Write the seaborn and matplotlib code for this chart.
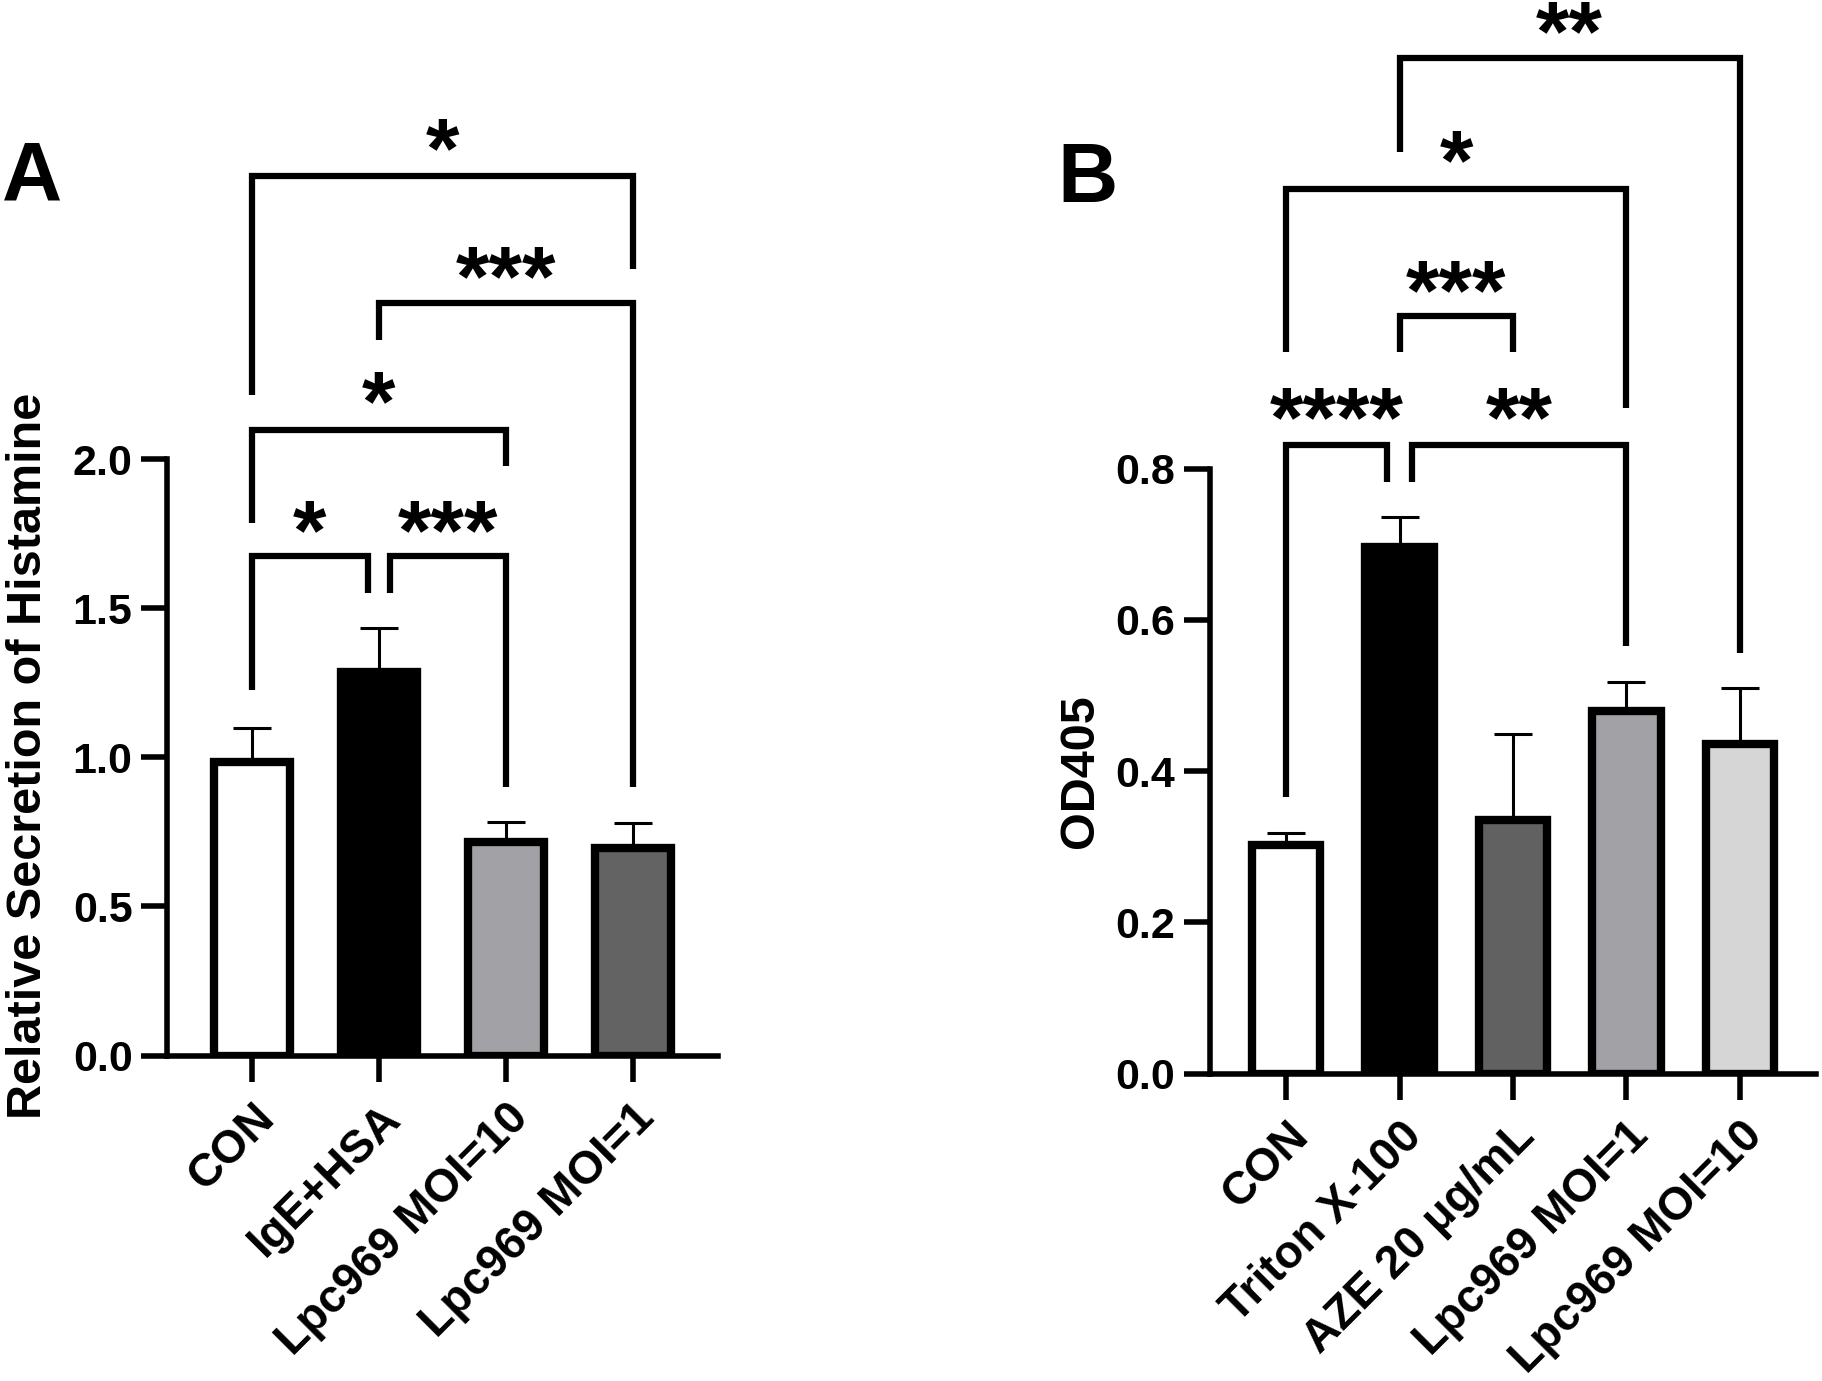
import matplotlib
matplotlib.use("Agg")
import matplotlib.pyplot as plt
import seaborn as sns

# ---- panel A data ----
a_groups = ["CON", "IgE+HSA", "Lpc969 MOI=10", "Lpc969 MOI=1"]
a_means = [0.985, 1.285, 0.715, 0.695]
a_err = [0.115, 0.150, 0.069, 0.085]
a_colors = ["#ffffff", "#000000", "#a2a2a6", "#636363"]

# ---- panel B data ----
b_groups = ["CON", "Triton X-100", "AZE 20 μg/mL", "Lpc969 MOI=1", "Lpc969 MOI=10"]
b_means = [0.302, 0.697, 0.335, 0.480, 0.436]
b_err = [0.016, 0.039, 0.114, 0.038, 0.074]
b_colors = ["#ffffff", "#000000", "#616161", "#a2a2a6", "#d6d6d6"]

# significance brackets: (left idx, right idx, left offset, right offset,
#                         bar height, left leg end, right leg end, label, label y)
a_brackets = [
    (0, 1, 0.0, -0.09, 1.676, 1.225, 1.550, "*", 1.805),
    (1, 2, 0.09, 0.0, 1.676, 1.550, 0.900, "***", 1.805),
    (0, 2, 0.0, 0.0, 2.097, 1.786, 1.977, "*", 2.237),
    (1, 3, 0.0, 0.0, 2.522, 2.400, 0.900, "***", 2.658),
    (0, 3, 0.0, 0.0, 2.950, 2.214, 2.638, "*", 3.085),
]
b_brackets = [
    (0, 1, 0.0, -0.11, 0.831, 0.366, 0.783, "****", 0.886),
    (1, 3, 0.11, 0.0, 0.831, 0.783, 0.566, "**", 0.886),
    (1, 2, 0.0, 0.0, 1.002, 0.954, 0.954, "***", 1.054),
    (0, 3, 0.0, 0.0, 1.170, 0.954, 0.880, "*", 1.226),
    (1, 4, 0.0, 0.0, 1.343, 1.219, 0.556, "**", 1.396),
]

sns.set_style("ticks")
plt.rcParams["font.family"] = ["Liberation Sans", "DejaVu Sans"]
plt.rcParams["font.weight"] = "bold"
for key in ("text.color", "axes.labelcolor", "xtick.color", "ytick.color",
            "axes.edgecolor"):
    plt.rcParams[key] = "black"

fig = plt.figure(figsize=(18.22, 13.81), dpi=100)
ax_a = fig.add_axes([0.0918, 0.2356, 0.302, 0.7644])
ax_b = fig.add_axes([0.6641, 0.2226, 0.3326, 0.7774])

STAR_FS = 62


def draw_panel(ax, groups, means, err, colors, brackets, ymax, ytop, yticks):
    x = list(range(len(groups)))
    ax.errorbar(x, means, yerr=[[0] * len(err), err], fmt="none", ecolor="black",
                elinewidth=2.2, capsize=13.5, capthick=2.2, zorder=1)
    sns.barplot(x=groups, y=means, hue=groups, palette=colors, width=0.6,
                edgecolor="black", linewidth=6, saturation=1, legend=False,
                ax=ax, zorder=2)
    for p in ax.patches:
        p.set_zorder(2)
    ax.set_xlim(-0.67, len(groups) - 0.33)
    ax.set_ylim(0, ymax)
    ax.set_yticks(yticks)
    ax.set_yticklabels([f"{t:.1f}" for t in yticks], fontsize=31, fontweight="bold")
    ax.set_xticks(x)
    ax.set_xticklabels(groups, rotation=45, ha="right", rotation_mode="anchor",
                       fontsize=33, fontweight="bold")
    ax.set_xlabel("")
    ax.set_ylabel("")
    sns.despine(ax=ax)
    ax.spines["left"].set_bounds(0, ytop)
    for s in ("left", "bottom"):
        ax.spines[s].set_linewidth(4)
    ax.tick_params(axis="both", width=4, length=19, pad=6, color="black")
    ax.tick_params(axis="x", pad=10)
    ax.patch.set_alpha(0)

    for i, j, oi, oj, h, yi, yj, lab, ty in brackets:
        xi, xj = i + oi, j + oj
        ax.plot([xi, xi, xj, xj], [yi, h, h, yj], color="black", lw=4.5,
                solid_joinstyle="miter", solid_capstyle="butt", clip_on=False,
                zorder=3)
        ax.annotate(lab, xy=((xi + xj) / 2, ty), xytext=(0, -0.49 * STAR_FS),
                    textcoords="offset points", ha="center", va="baseline",
                    fontsize=STAR_FS, fontweight="bold", annotation_clip=False)


draw_panel(ax_a, a_groups, a_means, a_err, a_colors, a_brackets,
           3.539, 2.0, [0.0, 0.5, 1.0, 1.5, 2.0])
draw_panel(ax_b, b_groups, b_means, b_err, b_colors, b_brackets,
           1.420, 0.8, [0.0, 0.2, 0.4, 0.6, 0.8])

fig.text(0.0159, 0.4526, "Relative Secretion of Histamine", rotation=90,
         ha="center", va="center", fontsize=35, fontweight="bold")
fig.text(0.5933, 0.4417, "OD405", rotation=90, ha="center", va="center",
         fontsize=35, fontweight="bold")
fig.text(0.0176, 0.871, "A", ha="center", va="center", fontsize=60, fontweight="bold")
fig.text(0.597, 0.870, "B", ha="center", va="center", fontsize=60, fontweight="bold")

fig.savefig("out.png", dpi=100, facecolor="white")
